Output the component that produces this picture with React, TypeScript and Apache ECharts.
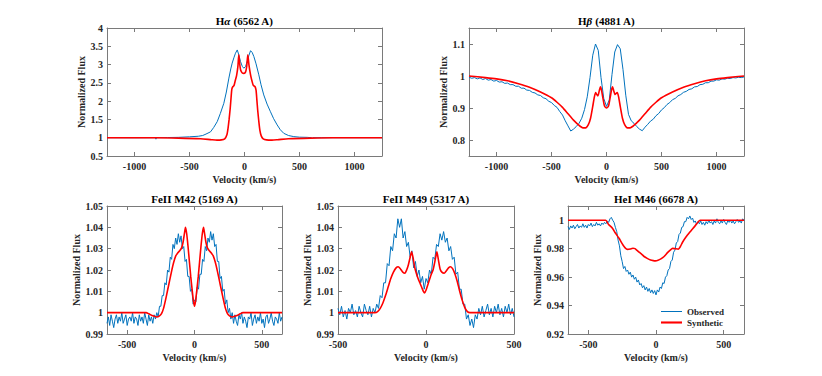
import React, { useEffect, useRef } from "react";
import * as echarts from "echarts";

// ---------- Data (velocity km/s, normalized flux) ----------
// H-alpha observed / synthetic
const haObsV = [-1250,-1000,-810,-805,-800,-700,-600,-500,-420,-380,-350,-309,-280,-248,-220,-188,-165,-142,-125,-112,-95,-82,-66,-50,-36,-20,-6,10,24,40,55,70,85,105,130,150,175,205,236,265,297,325,357,400,448,500,570,610,615,620,700,1000,1250];
const haObsF = [1.0,0.998,1.0,0.96,1.0,1.005,1.01,1.025,1.04,1.06,1.1,1.16,1.28,1.44,1.66,1.94,2.25,2.63,2.88,3.04,3.2,3.31,3.4,3.25,3.08,2.95,2.9,2.95,3.08,3.25,3.38,3.33,3.22,3.02,2.72,2.45,2.17,1.92,1.71,1.52,1.35,1.22,1.12,1.06,1.03,1.015,1.01,1.0,0.985,1.0,1.0,1.0,1.0];
const haSynV = [-1250,-800,-600,-400,-300,-250,-210,-180,-160,-150,-140,-130,-122,-115,-105,-95,-85,-72,-60,-52,-45,-35,-20,-5,10,20,30,40,55,68,80,95,105,112,120,130,140,152,170,200,250,300,400,600,800,1250];
const haSynF = [1.0,1.0,0.99,0.97,0.945,0.935,0.94,0.97,1.08,1.25,1.5,1.8,2.1,2.33,2.4,2.43,2.55,2.7,2.95,3.27,3.05,2.85,2.77,2.76,2.8,2.95,3.27,3.0,2.72,2.55,2.43,2.4,2.3,2.05,1.75,1.45,1.2,1.05,0.97,0.94,0.935,0.945,0.97,0.99,1.0,1.0];

// H-beta observed (grid -1250..1250, step 25) / synthetic
const hbObsStart = -1250, hbObsStep = 25;
const hbObsF = [0.996,0.993,0.995,0.991,0.994,0.989,0.992,0.987,0.989,0.984,0.986,0.981,0.982,0.977,0.978,0.973,0.973,0.968,0.968,0.962,0.962,0.956,0.955,0.949,0.947,0.941,0.939,0.932,0.929,0.921,0.917,0.908,0.902,0.889,0.878,0.86,0.844,0.828,0.834,0.842,0.852,0.868,0.895,0.935,0.995,1.065,1.1,1.08,0.995,0.93,0.905,0.925,1.005,1.075,1.098,1.085,1.02,0.94,0.88,0.86,0.852,0.842,0.834,0.829,0.84,0.849,0.859,0.865,0.876,0.883,0.894,0.901,0.911,0.917,0.926,0.93,0.938,0.942,0.949,0.952,0.958,0.96,0.966,0.967,0.973,0.974,0.979,0.979,0.984,0.984,0.988,0.987,0.991,0.99,0.993,0.992,0.995,0.994,0.996,0.995,0.997];
const hbSynV = [-1250,-1100,-1000,-900,-800,-700,-600,-500,-450,-400,-350,-300,-270,-240,-215,-190,-165,-145,-125,-110,-98,-88,-78,-65,-55,-45,-32,-18,0,18,32,45,55,65,78,88,98,110,125,145,165,190,215,240,270,300,350,400,450,500,600,700,800,900,1000,1100,1250];
const hbSynF = [1.0,0.995,0.991,0.985,0.976,0.965,0.95,0.932,0.918,0.902,0.882,0.862,0.852,0.843,0.838,0.838,0.848,0.868,0.905,0.935,0.948,0.942,0.938,0.955,0.966,0.955,0.93,0.906,0.9,0.906,0.93,0.955,0.966,0.955,0.942,0.946,0.948,0.935,0.905,0.868,0.848,0.838,0.838,0.843,0.852,0.862,0.882,0.902,0.918,0.932,0.95,0.965,0.976,0.985,0.991,0.995,1.0];

// FeII M42 observed (grid -650..650, step 10) / synthetic
const m42ObsStart = -650, m42ObsStep = 10;
const m42ObsF = [0.995,0.998,0.994,0.999,0.996,0.993,0.997,0.999,0.995,0.998,0.996,1.0,0.995,0.997,0.999,0.994,0.997,0.998,0.996,1.0,0.995,0.998,0.997,0.994,0.999,0.996,0.998,0.995,1.0,0.997,0.994,0.999,0.996,0.998,0.995,0.999,0.997,1.0,0.998,1.003,1.003,1.008,1.008,1.014,1.013,1.02,1.019,1.026,1.025,1.032,1.03,1.035,1.032,1.037,1.033,1.036,1.03,1.031,1.024,1.025,1.017,1.017,1.01,1.011,1.004,1.006,1.005,1.012,1.011,1.018,1.018,1.025,1.024,1.031,1.029,1.035,1.033,1.038,1.034,1.037,1.031,1.032,1.024,1.024,1.016,1.017,1.01,1.011,1.004,1.006,1.0,1.002,0.997,1.0,0.995,0.999,0.996,0.994,0.999,0.997,1.0,0.995,0.998,0.996,0.993,0.998,0.997,1.0,0.994,0.997,0.999,0.995,0.998,0.996,1.0,0.995,0.997,0.993,0.998,0.999,0.995,0.997,1.0,0.996,0.994,0.998,0.997,0.995,1.0,0.996,0.998];
const m42SynV = [-650,-360,-340,-310,-280,-260,-245,-230,-215,-200,-185,-170,-155,-140,-125,-110,-95,-85,-75,-67,-58,-48,-38,-28,-18,-8,0,8,18,28,38,48,58,67,75,85,95,110,125,140,155,170,185,200,215,230,245,260,280,310,340,360,650];
const m42SynF = [1,1,0.9995,0.9985,0.998,0.9985,0.9995,1.002,1.006,1.0105,1.015,1.0195,1.0235,1.0265,1.028,1.029,1.0305,1.033,1.037,1.04,1.037,1.031,1.024,1.017,1.011,1.0055,1.003,1.0055,1.011,1.017,1.024,1.031,1.037,1.04,1.037,1.033,1.0305,1.029,1.028,1.0265,1.0235,1.0195,1.015,1.0105,1.006,1.002,0.9995,0.9985,0.998,0.9985,0.9995,1,1];

// FeII M49 observed (grid -500..500, step 10) / synthetic
const m49ObsStart = -500, m49ObsStep = 10;
const m49ObsF = [1.002,0.999,1.003,0.998,1.001,0.997,1.002,1.0,1.004,0.999,1.001,0.998,1.003,1.0,0.998,1.004,1.001,0.999,1.003,0.998,1.002,1.0,1.004,1.002,1.008,1.007,1.014,1.014,1.023,1.022,1.031,1.029,1.037,1.035,1.044,1.04,1.044,1.035,1.038,1.031,1.033,1.026,1.029,1.021,1.024,1.017,1.02,1.014,1.017,1.011,1.016,1.014,1.02,1.018,1.026,1.025,1.032,1.031,1.037,1.034,1.038,1.033,1.035,1.029,1.031,1.025,1.026,1.018,1.019,1.011,1.011,1.004,1.004,0.997,0.999,0.994,0.997,0.993,0.999,0.997,1.002,0.999,1.003,0.998,1.001,1.004,0.999,1.002,0.998,1.003,1.0,1.004,0.999,1.002,0.998,1.003,1.0,1.004,0.999,1.002,0.998];
const m49SynV = [-500,-290,-275,-260,-245,-230,-215,-200,-185,-170,-158,-145,-132,-120,-110,-100,-90,-82,-74,-65,-55,-45,-35,-25,-15,-8,0,10,20,30,40,48,55,62,70,80,90,103,115,128,140,152,165,178,190,205,220,235,250,500];
const m49SynF = [1,1,1.0005,1.002,1.0045,1.008,1.012,1.016,1.019,1.021,1.0215,1.0205,1.019,1.0185,1.02,1.0225,1.026,1.0285,1.026,1.0215,1.0185,1.016,1.014,1.012,1.01,1.0092,1.0105,1.013,1.0155,1.018,1.02,1.023,1.026,1.0285,1.025,1.0205,1.019,1.0185,1.0195,1.021,1.0215,1.0205,1.018,1.0145,1.0105,1.006,1.0025,1.0005,1,1];

// HeI M46 observed (grid -650..650, step 10) / synthetic
const heObsStart = -650, heObsStep = 10;
const heObsF = [0.9955,0.9935,0.996,0.9945,0.9965,0.994,0.9955,0.997,0.9945,0.996,0.995,0.9975,0.995,0.9965,0.9945,0.997,0.996,0.998,0.9955,0.997,0.996,0.9985,0.9965,0.9975,0.996,0.998,0.997,0.9985,0.9975,0.9995,0.9985,1.001,1.002,1.0,0.9985,0.995,0.992,0.986,0.982,0.975,0.971,0.966,0.9675,0.964,0.965,0.962,0.9635,0.96,0.9615,0.9585,0.96,0.9565,0.958,0.9545,0.9555,0.9525,0.954,0.951,0.953,0.95,0.952,0.949,0.951,0.9485,0.9505,0.9475,0.951,0.9495,0.953,0.952,0.956,0.9555,0.96,0.961,0.965,0.966,0.971,0.972,0.9775,0.979,0.984,0.985,0.99,0.991,0.995,0.9955,0.999,0.999,1.002,1.001,1.003,1.0005,1.0015,0.9985,0.9995,0.997,0.999,0.9975,0.9995,0.997,0.9985,0.9965,0.999,0.9975,1.0,0.998,0.999,0.997,0.9995,0.998,1.001,0.9985,0.9975,0.9995,0.998,1.0005,0.9985,0.997,0.9995,0.9985,1.0,0.998,0.9995,0.9975,0.999,1.0005,0.9985,0.9995,0.998,1.001,1.0];
const heSynV = [-650,-372,-350,-322,-300,-273,-250,-236,-222,-208,-190,-170,-155,-140,-125,-105,-88,-65,-40,-20,-5,15,36,60,85,105,122,140,165,180,196,220,258,290,327,650];
const heSynF = [1,1,0.997,0.9944,0.991,0.9873,0.9835,0.9815,0.98,0.9795,0.9798,0.9803,0.98,0.9788,0.9775,0.976,0.9745,0.9732,0.9721,0.9716,0.9714,0.9718,0.9728,0.9745,0.9772,0.979,0.9802,0.98,0.9797,0.9815,0.9845,0.988,0.9925,0.9962,1.0,1];

// Ticks
const velTicksWide = [-1000, -500, 0, 500, 1000];
const velTicksNarrow = [-500, 0, 500];
const haTicks = [0.5, 1, 1.5, 2, 2.5, 3, 3.5, 4];
const hbTicks = [0.8, 0.9, 1, 1.1];
const feTicks = [0.99, 1, 1.01, 1.02, 1.03, 1.04, 1.05];
const heTicks = [0.92, 0.94, 0.96, 0.98, 1];

const titles = ["H{i|α} (6562 A)", "H{i|β} (4881 A)", "FeII M42 (5169 A)", "FeII M49 (5317 A)", "HeI M46 (6678 A)"];
const legendNames = ["Observed", "Synthetic"];

// ---------- helpers ----------
const pairs = (xs: number[], ys: number[]) => xs.map((x, i) => [x, ys[i]]);
const grid = (start: number, step: number, ys: number[]) => ys.map((y, i) => [start + i * step, y]);

const FONT = "'Liberation Serif', 'Times New Roman', serif";
const TXT = "#262626";
const AX = "#7a7a7a";
const BLUE = "#0072BD";
const RED = "#FF0000";

const fmt = (v: number) => String(+Number(v).toFixed(3));

export default function App() {
  const ref = useRef<HTMLDivElement>(null);
  useEffect(() => {
    if (!ref.current) return;
    const chart = echarts.init(ref.current, undefined, { renderer: "svg" });

    const panels = [
      { g: { left: 107, top: 28, width: 275, height: 128 }, x: [-1250, 1250], xt: velTicksWide, y: [0.5, 4], yt: haTicks, nameGap: 18, title: titles[0] },
      { g: { left: 469, top: 28, width: 275, height: 128 }, x: [-1250, 1250], xt: velTicksWide, y: [0.75, 1.15], yt: hbTicks, nameGap: 18, title: titles[1] },
      { g: { left: 107, top: 206, width: 175, height: 128 }, x: [-650, 650], xt: velTicksNarrow, y: [0.99, 1.05], yt: feTicks, nameGap: 23, title: titles[2] },
      { g: { left: 338, top: 206, width: 176, height: 128 }, x: [-500, 500], xt: velTicksNarrow, y: [0.99, 1.05], yt: feTicks, nameGap: 23, title: titles[3] },
      { g: { left: 568, top: 206, width: 176, height: 128 }, x: [-650, 650], xt: velTicksNarrow, y: [0.92, 1.01], yt: heTicks, nameGap: 24, title: titles[4] },
    ];

    const lineStyle = { color: AX, width: 1 };
    const labelStyle = { fontFamily: FONT, fontWeight: "bold" as const, fontSize: 10, color: TXT };
    const nameStyle = { fontFamily: FONT, fontWeight: "bold" as const, fontSize: 10, color: TXT };

    const xAxis: any[] = [];
    const yAxis: any[] = [];
    const grids: any[] = [];
    const graphics: any[] = [];

    panels.forEach((p, i) => {
      grids.push({ ...p.g, containLabel: false });
      xAxis.push({
        gridIndex: i, type: "value", min: p.x[0], max: p.x[1], position: "bottom",
        axisLine: { onZero: false, lineStyle },
        axisTick: { inside: true, length: 4, customValues: p.xt, lineStyle },
        axisLabel: { customValues: p.xt, formatter: fmt, margin: 5, ...labelStyle, showMinLabel: true, showMaxLabel: true },
        splitLine: { show: false },
        name: "Velocity (km/s)", nameLocation: "middle", nameGap: 18, nameTextStyle: nameStyle,
      });
      xAxis.push({
        gridIndex: i, type: "value", min: p.x[0], max: p.x[1], position: "top",
        axisLine: { onZero: false, lineStyle },
        axisTick: { inside: true, length: 4, customValues: p.xt, lineStyle },
        axisLabel: { show: false }, splitLine: { show: false },
      });
      yAxis.push({
        gridIndex: i, type: "value", min: p.y[0], max: p.y[1], position: "left",
        axisLine: { onZero: false, lineStyle },
        axisTick: { inside: true, length: 4, customValues: p.yt, lineStyle },
        axisLabel: { customValues: p.yt, formatter: fmt, margin: 4, ...labelStyle },
        splitLine: { show: false },
        name: "Normalized Flux", nameLocation: "middle", nameGap: p.nameGap, nameTextStyle: nameStyle,
      });
      yAxis.push({
        gridIndex: i, type: "value", min: p.y[0], max: p.y[1], position: "right",
        axisLine: { onZero: false, lineStyle },
        axisTick: { inside: true, length: 4, customValues: p.yt, lineStyle },
        axisLabel: { show: false }, splitLine: { show: false },
      });
      graphics.push({
        type: "text",
        x: p.g.left + p.g.width / 2,
        y: p.g.top - 7,
        silent: true,
        style: {
          text: p.title,
          align: "center",
          verticalAlign: "middle",
          font: `bold 11px ${FONT}`,
          fill: "#000",
          rich: { i: { font: `italic bold 11px ${FONT}`, fill: "#000" } },
        },
      });
    });

    const obs = [
      pairs(haObsV, haObsF),
      grid(hbObsStart, hbObsStep, hbObsF),
      grid(m42ObsStart, m42ObsStep, m42ObsF),
      grid(m49ObsStart, m49ObsStep, m49ObsF),
      grid(heObsStart, heObsStep, heObsF),
    ];
    const syn = [
      pairs(haSynV, haSynF),
      pairs(hbSynV, hbSynF),
      pairs(m42SynV, m42SynF),
      pairs(m49SynV, m49SynF),
      pairs(heSynV, heSynF),
    ];

    const series: any[] = [];
    panels.forEach((_, i) => {
      series.push({
        name: i === 4 ? legendNames[0] : `obs${i}`, type: "line", xAxisIndex: 2 * i, yAxisIndex: 2 * i,
        data: obs[i], symbol: "none", showSymbol: false, silent: true,
        lineStyle: { color: BLUE, width: 1 }, itemStyle: { color: BLUE }, z: 2,
      });
      series.push({
        name: i === 4 ? legendNames[1] : `syn${i}`, type: "line", xAxisIndex: 2 * i, yAxisIndex: 2 * i,
        data: syn[i], symbol: "none", showSymbol: false, silent: true, smooth: 0.2,
        lineStyle: { color: RED, width: 1.6 }, itemStyle: { color: RED }, z: 3,
      });
    });

    chart.setOption({
      animation: false,
      backgroundColor: "#fff",
      grid: grids,
      xAxis,
      yAxis,
      series,
      graphic: graphics,
      legend: {
        data: [
          { name: legendNames[0], icon: "path://M0,0H20V1H0Z", itemStyle: { color: BLUE } },
          { name: legendNames[1], icon: "path://M0,0H20V2H0Z", itemStyle: { color: RED } },
        ],
        orient: "vertical",
        left: 661,
        top: 306,
        padding: 0,
        itemGap: 0,
        itemWidth: 21,
        itemHeight: 11,
        selectedMode: false,
        textStyle: { fontFamily: FONT, fontWeight: "bold", fontSize: 9, color: TXT, lineHeight: 11 },
      },
    });
    return () => chart.dispose();
  }, []);

  return <div ref={ref} style={{ position: "fixed", left: 0, top: 0, width: 822, height: 376 }} />;
}
